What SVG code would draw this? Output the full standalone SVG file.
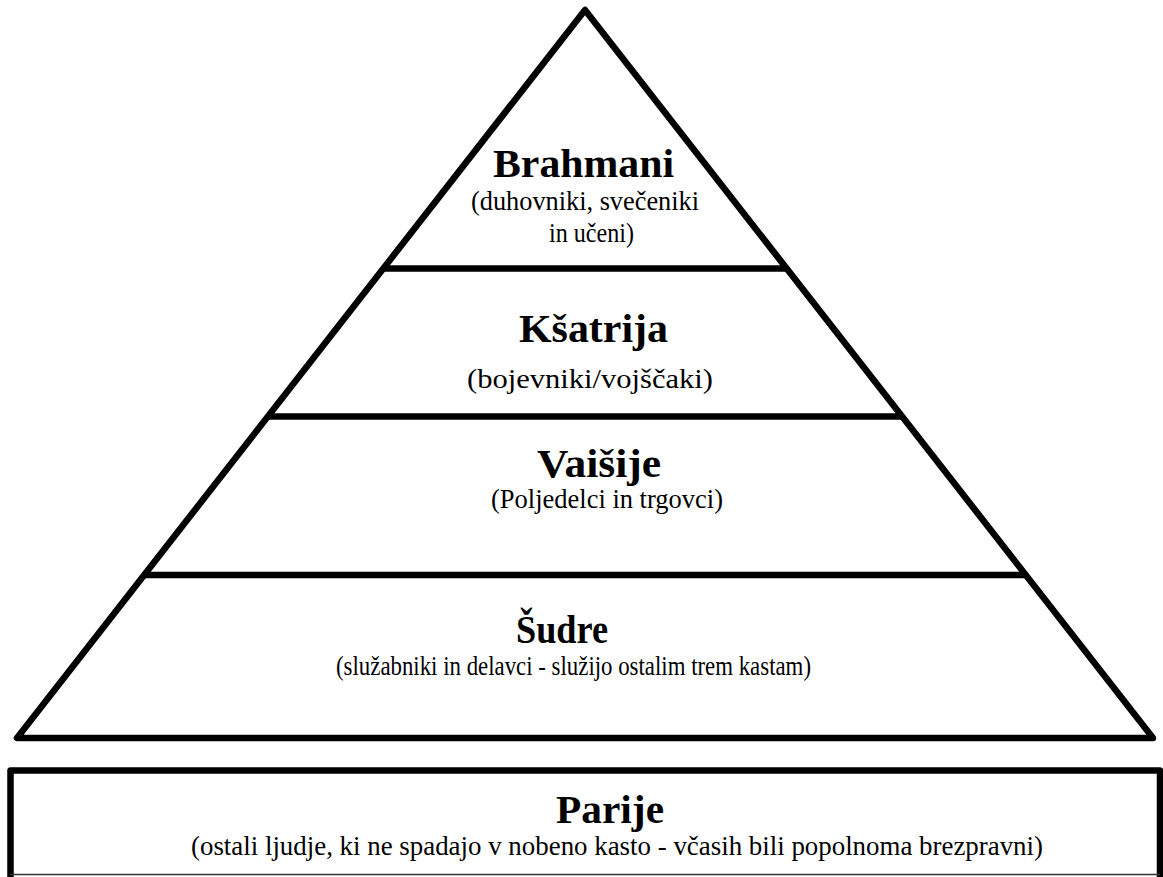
<svg xmlns="http://www.w3.org/2000/svg" width="1163" height="877" viewBox="0 0 1163 877">
  <style>
    .shape { fill: none; stroke: #000; stroke-width: 6.5; stroke-linejoin: round; }
    .title { font-family: "Liberation Serif", "Times New Roman", serif; font-weight: bold; font-size: 39px; fill: #000; }
    .sub { font-family: "Liberation Serif", "Times New Roman", serif; font-size: 28px; fill: #000; }
  </style>
  <rect width="1163" height="877" fill="#fff"/>
  <g id="connectors">
    <polygon class="shape" points="585,10 17,738 1153,738"/>
    <line class="shape" x1="383.3" y1="268.5" x2="786.7" y2="268.5"/>
    <line class="shape" x1="267.8" y1="416.5" x2="902.2" y2="416.5"/>
    <line class="shape" x1="144.2" y1="575" x2="1025.8" y2="575"/>
  </g>
  <g id="brahmani">
    <text class="title" x="493" y="177" textLength="181" lengthAdjust="spacingAndGlyphs">Brahmani</text>
    <text class="sub" x="471" y="210" textLength="228" lengthAdjust="spacingAndGlyphs">(duhovniki, svečeniki</text>
    <text class="sub" x="549" y="242" textLength="85" lengthAdjust="spacingAndGlyphs">in učeni)</text>
  </g>
  <g id="ksatrija">
    <text class="title" x="519" y="342" textLength="149" lengthAdjust="spacingAndGlyphs">Kšatrija</text>
    <text class="sub" x="467" y="388" textLength="246" lengthAdjust="spacingAndGlyphs">(bojevniki/vojščaki)</text>
  </g>
  <g id="vaisije">
    <text class="title" x="537" y="477" textLength="124" lengthAdjust="spacingAndGlyphs">Vaišije</text>
    <text class="sub" x="491" y="508" textLength="232" lengthAdjust="spacingAndGlyphs">(Poljedelci in trgovci)</text>
  </g>
  <g id="sudre">
    <text class="title" x="516" y="643" textLength="92" lengthAdjust="spacingAndGlyphs">Šudre</text>
    <text class="sub" x="336" y="675" textLength="475" lengthAdjust="spacingAndGlyphs">(služabniki in delavci - služijo ostalim trem kastam)</text>
  </g>
  <g id="parije">
    <path class="shape" d="M10.5,877 V770.5 H1160 V877" stroke-linejoin="miter"/>
    <line x1="10" y1="874.5" x2="1160" y2="874.5" stroke="#333" stroke-width="1.5"/>
    <text class="title" x="556" y="823" textLength="108" lengthAdjust="spacingAndGlyphs">Parije</text>
    <text class="sub" x="191" y="855" textLength="852" lengthAdjust="spacingAndGlyphs">(ostali ljudje, ki ne spadajo v nobeno kasto - včasih bili popolnoma brezpravni)</text>
  </g>
</svg>
